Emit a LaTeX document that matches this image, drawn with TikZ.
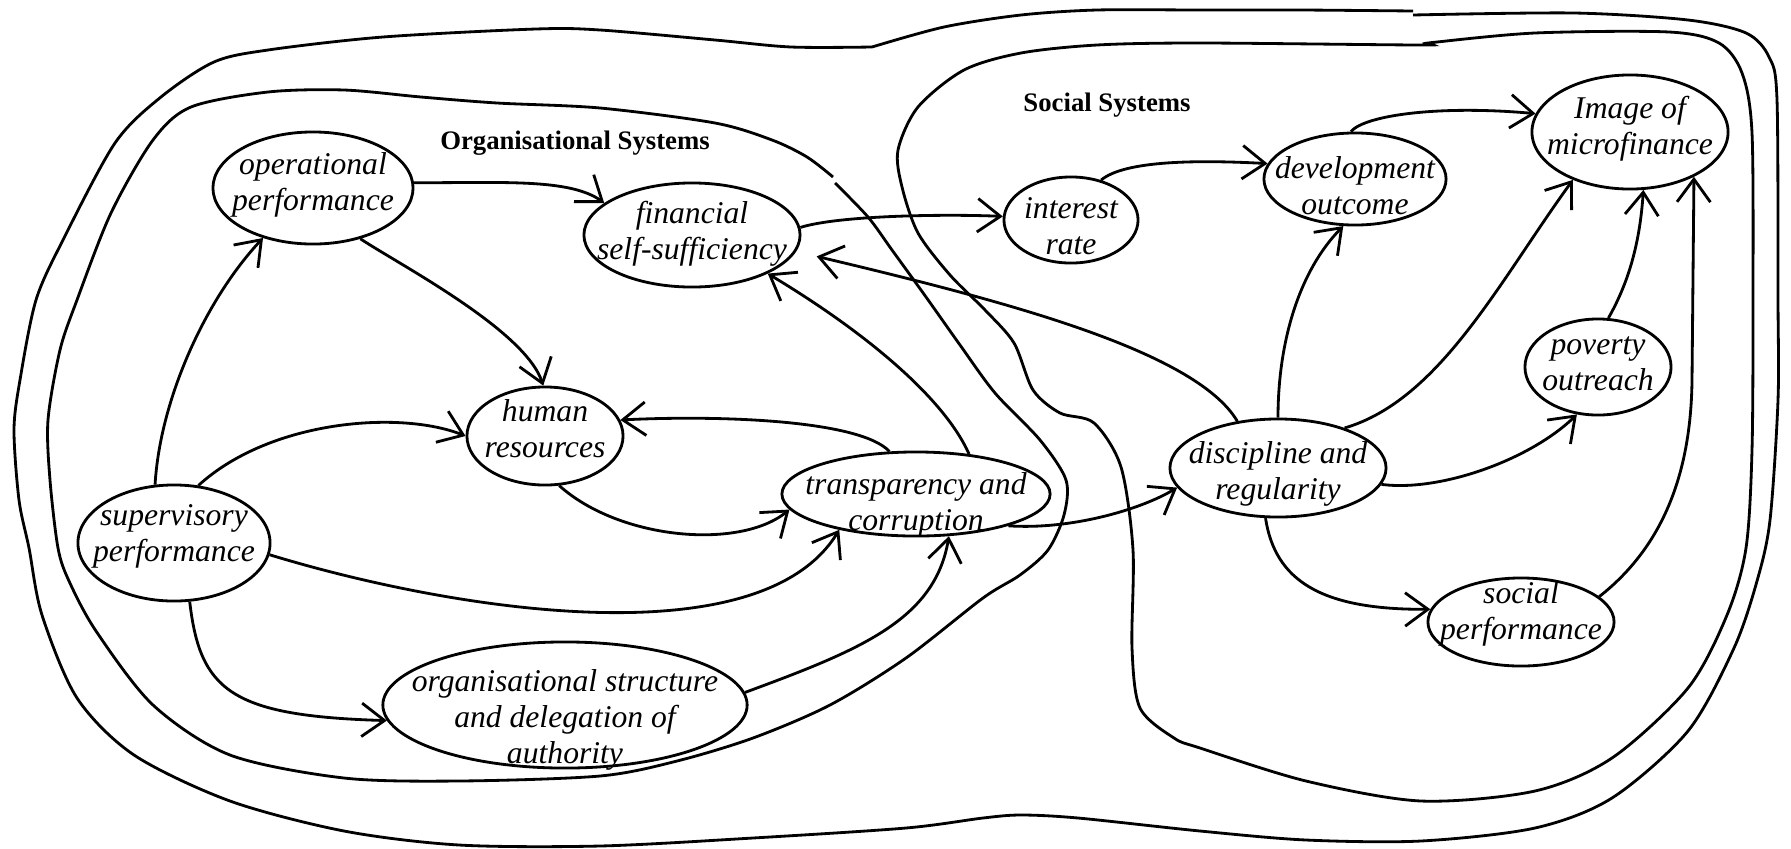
\documentclass[tikz,border=0pt]{standalone}
\usepackage{fontspec}
\setmainfont{Liberation Serif}
\usetikzlibrary{shapes.geometric,arrows.meta}
\begin{document}
\begin{tikzpicture}[x=0.01cm,y=0.01cm,line width=0.8pt,
  ell/.style 2 args={ellipse,draw,line width=0.8pt,inner sep=0pt,minimum width={#1*0.02cm},minimum height={#2*0.02cm}},
  txt/.style={font=\fontsize{9}{10.2}\selectfont\itshape,align=center,inner sep=0pt},
  sys/.style={font=\fontsize{7.6}{9}\selectfont\bfseries,inner sep=0pt},
  conn/.style={-{Straight Barb[length=6.5pt,width=9.5pt,line width=0.8pt]}},
  bound/.style={line width=0.8pt}]
\useasboundingbox (0,0) rectangle (1791,-848);

% outer boundary
\draw[bound] plot[smooth,tension=0.5] coordinates {(872,-47) (791,-47) (715,-40) (600,-30) (536,-29) (383,-37) (268,-50) (214,-62) (161,-97) (115,-143) (63,-240) (36,-300) (20,-380) (14,-430) (19,-500) (29,-548) (42,-615) (77,-698) (134,-755) (230,-801) (344,-831) (459,-845) (600,-846) (753,-838) (906,-828) (983,-818) (1021,-815) (1078,-818) (1200,-831) (1306,-840) (1421,-841) (1535,-828) (1612,-798) (1688,-731) (1734,-648) (1757,-581) (1770,-520) (1778,-400) (1778,-300) (1777,-100) (1769,-57) (1746,-33) (1688,-20) (1574,-13) (1413,-15)};
\draw[bound] plot[smooth,tension=0.5] coordinates {(872,-47) (944,-27) (1021,-15) (1097,-10) (1200,-10) (1300,-10) (1413,-11)};

% organisational boundary
\draw[bound] plot[smooth,tension=0.5] coordinates {(835,-183) (868,-217) (892,-250) (926,-297) (960,-345) (995,-393) (1040,-440) (1066,-480) (1064,-515) (1048,-550) (1020,-575) (983,-598) (906,-658) (830,-705) (753,-738) (677,-761) (600,-776) (459,-781) (344,-778) (230,-755) (153,-705) (96,-631) (69,-581) (58,-548) (50,-480) (48,-420) (60,-350) (77,-300) (111,-213) (153,-140) (191,-107) (268,-92) (344,-90) (421,-97) (497,-103) (600,-108) (715,-123) (772,-140) (807,-157) (833,-177)};

% social boundary
\draw[bound] plot[smooth cycle,tension=0.5] coordinates {(1200,-43) (1097,-45) (1021,-53) (964,-70) (918,-107) (898,-150) (902,-187) (918,-233) (950,-275) (985,-310) (1014,-343) (1033,-390) (1060,-413) (1094,-423) (1121,-467) (1133,-550) (1132,-648) (1140,-708) (1174,-738) (1200,-748) (1306,-781) (1421,-801) (1535,-791) (1612,-758) (1688,-688) (1727,-615) (1746,-548) (1752,-450) (1753,-300) (1752,-133) (1742,-73) (1719,-43) (1669,-32) (1535,-33) (1428,-43) (1421,-45)};

% labels
\node[sys] (orgsys) at (575,-143) {Organisational Systems};
\node[sys] (socsys) at (1107,-105) {Social Systems};

% ellipses
\node[ell={100}{56}] (op) at (313,-188) {};
\node[ell={108}{52}] (fin) at (692,-235) {};
\node[ell={67}{43}] (int) at (1071,-220) {};
\node[ell={91}{46}] (dev) at (1355,-179) {};
\node[ell={98}{57}] (img) at (1630,-132) {};
\node[ell={78}{49}] (hum) at (545,-436) {};
\node[ell={134}{42}] (tra) at (916,-494) {};
\node[ell={108}{49}] (dis) at (1278,-468) {};
\node[ell={96}{58}] (sup) at (174,-543) {};
\node[ell={93}{44}] (soc) at (1521,-622) {};
\node[ell={73}{48}] (pov) at (1598,-367) {};
\node[ell={182}{63}] (org) at (565,-705) {};

% texts
\node[txt] (opT) at (313,-185) {operational\\performance};
\node[txt] (finT) at (692,-234) {financial\\self-sufficiency};
\node[txt] (intT) at (1071,-226) {interest\\rate};
\node[txt] (devT) at (1355,-186) {development\\outcome};
\node[txt] (imgT) at (1630,-129) {Image of\\microfinance};
\node[txt] (humT) at (545,-429) {human\\resources};
\node[txt] (traT) at (916,-505) {transparency and\\corruption};
\node[txt] (disT) at (1278,-474) {discipline and\\regularity};
\node[txt] (supT) at (174,-536) {supervisory\\performance};
\node[txt] (socT) at (1521,-614) {social\\performance};
\node[txt] (povT) at (1598,-364) {poverty\\outreach};
\node[txt] (orgT) at (565,-720) {organisational structure\\and delegation of\\authority};

% connectors
\draw[conn] (sup.108) .. controls (160,-400) and (205,-300) .. (op.225);
\draw[conn] (op.3) .. controls (500,-183) and (570,-178) .. (fin.160);
\draw[conn] (op.313) .. controls (400,-265) and (525,-330) .. (hum.92);
\draw[conn] (sup.67) .. controls (270,-420) and (400,-410) .. (hum.180);
\draw[conn] (hum.286) .. controls (620,-540) and (740,-550) .. (tra.187);
\draw[conn] (sup.353) .. controls (450,-610) and (760,-660) .. (tra.205);
\draw[conn] (sup.285) .. controls (200,-690) and (230,-716) .. (org.185);
\draw[conn] (org.4) .. controls (860,-650) and (935,-620) .. (tra.308);
\draw[conn] (tra.122) .. controls (860,-420) and (720,-415) .. (hum.12);
\draw[conn] (tra.37) .. controls (945,-400) and (870,-335) .. (fin.333);
\draw[conn,shorten >=6pt] (dis.131) .. controls (1195,-350) and (1000,-300) .. (fin.351);
\draw[conn] (fin.4) .. controls (840,-215) and (950,-214) .. (int.177);
\draw[conn] (int.53) .. controls (1125,-160) and (1200,-160) .. (dev.170);
\draw[conn] (dev.95) .. controls (1365,-115) and (1440,-105) .. (img.169);
\draw[conn] (dis.90) .. controls (1278,-340) and (1300,-270) .. (dev.256);
\draw[conn] (dis.31) .. controls (1440,-400) and (1500,-280) .. (img.220);
\draw[conn] (dis.351) .. controls (1440,-492) and (1530,-460) .. (pov.246);
\draw[conn] (dis.256) .. controls (1275,-580) and (1320,-610) .. (soc.172);
\draw[conn] (pov.78) .. controls (1630,-280) and (1640,-240) .. (img.283);
\draw[conn] (soc.18) .. controls (1665,-545) and (1691,-470) .. (1692,-380) -- (img.325);
\draw[conn] (tra.341) .. controls (1070,-530) and (1140,-510) .. (dis.191);
\end{tikzpicture}
\end{document}
